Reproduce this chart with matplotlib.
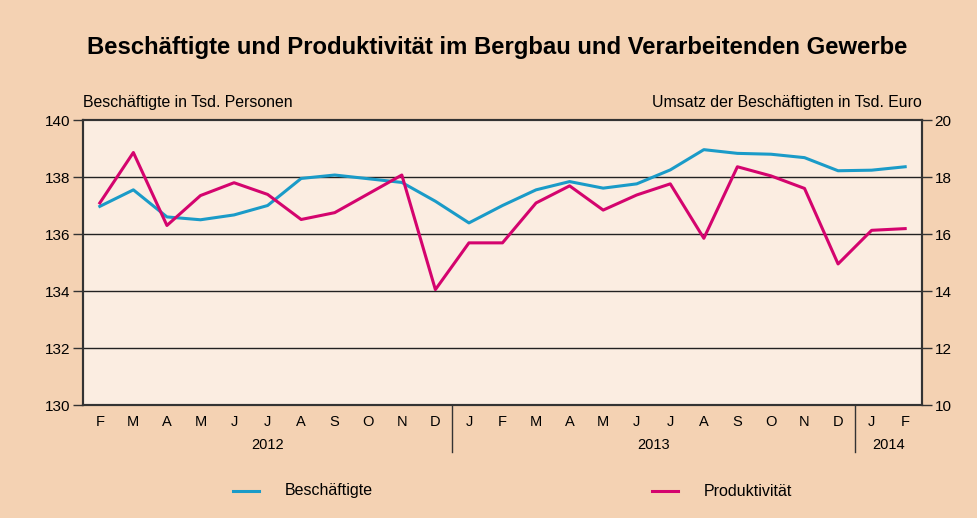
import matplotlib
matplotlib.use("Agg")
import matplotlib.pyplot as plt

months = ["F", "M", "A", "M", "J", "J", "A", "S", "O", "N", "D",
          "J", "F", "M", "A", "M", "J", "J", "A", "S", "O", "N", "D",
          "J", "F"]
years = ["2012", "2013", "2014"]
beschaeftigte = [136.97, 137.55, 136.60, 136.50, 136.67, 137.00, 137.95, 138.07, 137.94, 137.81, 137.15,
                 136.39, 137.00, 137.55, 137.84, 137.61, 137.76, 138.25, 138.96, 138.83, 138.80, 138.68, 138.22,
                 138.24, 138.36]
produktivitaet = [17.09, 18.86, 16.30, 17.35, 17.80, 17.39, 16.51, 16.75, 17.41, 18.07, 14.05,
                  15.69, 15.69, 17.09, 17.69, 16.84, 17.37, 17.76, 15.85, 18.36, 18.04, 17.60, 14.95,
                  16.13, 16.19]

BG = "#F4D2B3"
PLOT_BG = "#FBEDE1"
BLUE = "#1A9BC8"
MAGENTA = "#D4046E"
FONT = "Liberation Sans"

plt.rcParams['font.family'] = [FONT, 'DejaVu Sans']

fig = plt.figure(figsize=(9.78, 5.18), dpi=100, facecolor=BG)
ax = fig.add_axes([0.0849, 0.2181, 0.8578, 0.5502])
ax.set_facecolor(PLOT_BG)
ax2 = ax.twinx()

x = list(range(len(months)))
ax.plot(x, beschaeftigte, color=BLUE, lw=2.2, zorder=3)
ax2.plot(x, produktivitaet, color=MAGENTA, lw=2.2, zorder=3)

ax.set_xlim(-0.5, len(months) - 0.5)
ax.set_ylim(130, 140)
ax2.set_ylim(10, 20)
ax.set_yticks([130, 132, 134, 136, 138, 140])
ax2.set_yticks([10, 12, 14, 16, 18, 20])
for yv in [132, 134, 136, 138]:
    ax.axhline(yv, color="#222222", lw=1.0, zorder=1)

ax.set_xticks(x)
ax.set_xticklabels(months, fontsize=10.5)
ax.tick_params(axis='x', length=0, pad=7)
ax.tick_params(axis='y', length=7, width=1.0, color="#333333", labelsize=11, pad=2)
ax2.tick_params(axis='y', length=7, width=1.0, color="#333333", labelsize=11, pad=2)

for a in (ax, ax2):
    for s in a.spines.values():
        s.set_color("#333333")
        s.set_linewidth(1.5)

trans = ax.get_xaxis_transform()
for sep in [10.5, 22.5]:
    ax.plot([sep, sep], [0, -0.165], transform=trans, color="#333333", lw=1.0, clip_on=False)
year_pos = [5, 16.5, 23.5]
for yp, yl in zip(year_pos, years):
    ax.text(yp, -0.142, yl, transform=trans, ha="center", va="center", fontsize=10.5)

fig.text(0.508, 0.909, "Beschäftigte und Produktivität im Bergbau und Verarbeitenden Gewerbe",
         ha="center", va="center", fontsize=17.2, fontweight="bold")
fig.text(0.0849, 0.803, "Beschäftigte in Tsd. Personen", ha="left", va="center", fontsize=11.4)
fig.text(0.9427, 0.803, "Umsatz der Beschäftigten in Tsd. Euro", ha="right", va="center", fontsize=11.4)

# legend
fig.lines.append(plt.Line2D([233/978, 259/978], [1 - 491/518] * 2, color=BLUE, lw=2.2, transform=fig.transFigure))
fig.text(285/978, 1 - 491/518, "Beschäftigte", ha="left", va="center", fontsize=11.5)
fig.lines.append(plt.Line2D([652/978, 678/978], [1 - 491/518] * 2, color=MAGENTA, lw=2.2, transform=fig.transFigure))
fig.text(704/978, 1 - 491/518, "Produktivität", ha="left", va="center", fontsize=11.5)

fig.savefig("out.png", dpi=100, facecolor=BG)
